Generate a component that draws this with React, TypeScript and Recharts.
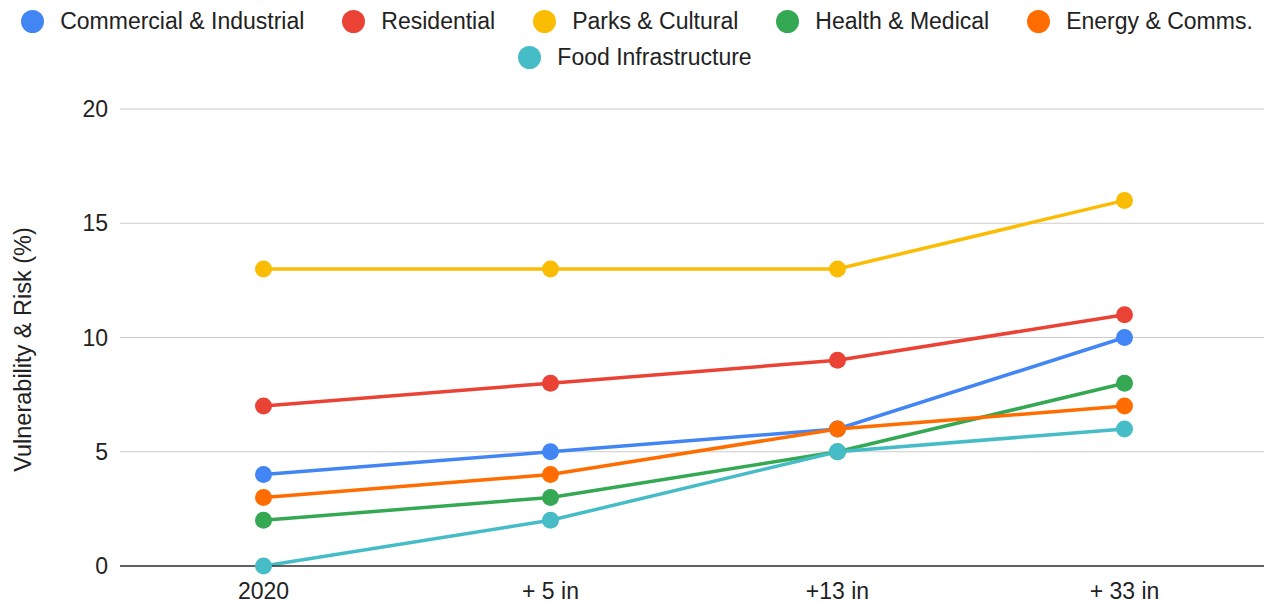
import React from "react";
import { LineChart, Line, XAxis, YAxis, CartesianGrid } from "recharts";

const categories = ["2020", "+ 5 in", "+13 in", "+ 33 in"];
const commercial = [4, 5, 6, 10];
const residential = [7, 8, 9, 11];
const parks = [13, 13, 13, 16];
const health = [2, 3, 5, 8];
const energy = [3, 4, 6, 7];
const food = [0, 2, 5, 6];
const yTicks = [0, 5, 10, 15, 20];

const series = [
  { key: "commercial", name: "Commercial & Industrial", color: "#4285F4", values: commercial },
  { key: "residential", name: "Residential", color: "#EA4335", values: residential },
  { key: "parks", name: "Parks & Cultural", color: "#FBBC04", values: parks },
  { key: "health", name: "Health & Medical", color: "#34A853", values: health },
  { key: "energy", name: "Energy & Comms.", color: "#FF6D01", values: energy },
  { key: "food", name: "Food Infrastructure", color: "#46BDC6", values: food },
];

const data = categories.map((c, i) => {
  const row: any = { cat: c };
  series.forEach((s) => (row[s.key] = s.values[i]));
  return row;
});

const FONT = "'Liberation Sans', Arial, sans-serif";
const FS = 23;

function LegendItem({ s, last }: { s: any; last: boolean }) {
  return (
    <div style={{ display: "flex", alignItems: "center", marginRight: last ? 0 : 38 }}>
      <div style={{ width: 23, height: 23, borderRadius: 12, background: s.color, marginRight: 16 }} />
      <span style={{ fontSize: FS, color: "#222", whiteSpace: "nowrap", lineHeight: "26px" }}>{s.name}</span>
    </div>
  );
}

export default function App() {
  const row1 = series.slice(0, 5);
  const row2 = series.slice(5);
  return (
    <div style={{ position: "absolute", left: 0, top: 0, width: 1264, height: 606, background: "#fff", fontFamily: FONT, overflow: "hidden" }}>
      <div style={{ position: "absolute", left: 0, top: 8, width: 1264 }}>
        <div style={{ display: "flex", justifyContent: "center", height: 26, paddingLeft: 10 }}>
          {row1.map((s, i) => (
            <LegendItem key={s.key} s={s} last={i === row1.length - 1} />
          ))}
        </div>
        <div style={{ display: "flex", justifyContent: "center", height: 26, marginTop: 10, paddingLeft: 6 }}>
          {row2.map((s, i) => (
            <LegendItem key={s.key} s={s} last={i === row2.length - 1} />
          ))}
        </div>
      </div>
      <LineChart width={1264} height={606} data={data} margin={{ top: 109, right: -4, bottom: 0, left: 0 }}>
        <CartesianGrid vertical={false} stroke="#cccccc" strokeWidth={1.2} />
        <XAxis
          dataKey="cat"
          scale="band"
          height={40}
          tickLine={false}
          axisLine={{ stroke: "#333333", strokeWidth: 1.5 }}
          tick={{ fontSize: FS, fill: "#222", fontFamily: FONT }}
          tickMargin={11}
          interval={0}
        />
        <YAxis
          width={120}
          domain={[0, 20]}
          ticks={yTicks}
          tickLine={false}
          axisLine={false}
          tick={{ fontSize: FS, fill: "#222", fontFamily: FONT }}
          tickMargin={6}
          label={{
            content: (props: any) => {
              const vb = props.viewBox;
              const cx = vb.x + 23;
              const cy = vb.y + vb.height / 2 + 12;
              return (
                <text
                  x={cx}
                  y={cy}
                  transform={`rotate(-90, ${cx}, ${cy})`}
                  textAnchor="middle"
                  dominantBaseline="central"
                  fontSize={23.5}
                  fill="#222"
                  fontFamily={FONT}
                >
                  Vulnerability &amp; Risk (%)
                </text>
              );
            },
          }}
        />
        {series.map((s) => (
          <Line
            key={s.key}
            dataKey={s.key}
            name={s.name}
            stroke={s.color}
            strokeWidth={3.5}
            dot={{ r: 8.5, fill: s.color, stroke: s.color, strokeWidth: 0 }}
            isAnimationActive={false}
          />
        ))}
      </LineChart>
    </div>
  );
}
